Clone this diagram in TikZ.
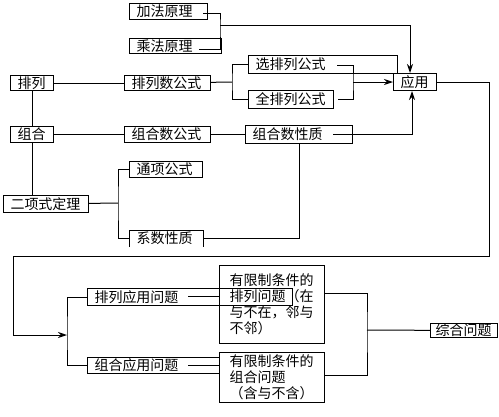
\documentclass[tikz,border=0pt]{standalone}
\usepackage{fontspec}
\usetikzlibrary{arrows.meta}
\newfontfamily\cjk{Noto Sans CJK SC}

\begin{document}
\begin{tikzpicture}[x=1pt,y=-1pt,>={Stealth[length=9pt,width=6pt]},line width=1pt,
        box/.style={draw, anchor=north west, inner xsep=7pt, inner ysep=0pt, align=left, font=\cjk\fontsize{14}{16}\selectfont}]
        \useasboundingbox (0,0) rectangle (499,416);

        \coordinate (JfStub) at (203,13);
        \coordinate (CfStub) at (199,49);
        \coordinate (PrJoin) at (220,25);
        \coordinate (PlJoin) at (232,82);
        \coordinate (XuanStub) at (337,65);
        \coordinate (XqJoin) at (353,82);
        \coordinate (ZxzStub) at (333,134);
        \coordinate (BtJoin) at (118,203);
        \coordinate (LoopR) at (489,256);
        \coordinate (LoopL) at (13,256);
        \coordinate (ApJoin) at (67,335);
        \coordinate (PwStub) at (188,296);
        \coordinate (ZwStub) at (188,365);
        \coordinate (TjJoin) at (367,330);

        % Principles
        \node[box, text width=64, minimum height=16] (Jiafa) at (129,3) {加法原理};
        \node[box, text width=78, minimum height=15] (Chengfa) at (129,38) {乘法原理};

        % Permutations
        \node[box, text width=29, minimum height=15] (Pailie) at (10,75) {排列};
        \node[box, text width=72, minimum height=15] (PailieShu) at (124,75) {排列数公式};
        \node[box, text width=135, minimum height=18] (XuanPl) at (248,55) {选排列公式};
        \node[box, text width=71, minimum height=18] (QuanPl) at (248,90) {全排列公式};
        \node[box, text width=29, minimum height=17] (Yingyong) at (393,73) {应用};

        % Combinations
        \node[box, text width=29, minimum height=16] (Zuhe) at (10,126) {组合};
        \node[box, text width=72, minimum height=16] (ZuheShu) at (124,126) {组合数公式};
        \node[box, text width=93, minimum height=18] (ZuheXz) at (245,125) {组合数性质};

        % Binomial theorem
        \node[box, text width=71, minimum height=17] (Erxiang) at (3,195) {二项式定理};
        \node[box, text width=59, minimum height=16] (Tongxiang) at (129,161) {通项公式};
        \node[box, draw=none, text width=59, minimum height=16] (Xishu) at (129,230) {系数性质};
        \draw (Xishu.south west) -- (Xishu.north west) -- (Xishu.north east) -- (Xishu.south east);

        % Applied problems
        \node[box, text width=191, minimum height=17] (PlWenti) at (87,288) {排列应用问题};
        \node[box, text width=118, minimum height=16] (ZhWenti) at (87,357) {组合应用问题};
        \node[box, inner xsep=10pt, text width=85, minimum height=78] (PlTiaojian) at (219,265) {有限制条件的\\排列问题（在\\与不在，邻与\\不邻）};
        \node[box, inner xsep=10pt, text width=85, minimum height=50] (ZhTiaojian) at (219,352) {有限制条件的\\组合问题\\（含与不含）};
        \node[box, inner xsep=5pt, text width=57, minimum height=14] (Zonghe) at (430,323) {综合问题};

        % Principles to application
        \draw (JfStub) -| (PrJoin) |- (CfStub);
        \draw[->] (PrJoin) -| ([xshift=-5]Yingyong.north);

        % Permutation row
        \draw (Pailie) -- (PailieShu);
        \draw (PailieShu) -- (PlJoin);
        \draw (XuanPl.west) -| (PlJoin) |- (QuanPl.west);
        \draw (XuanStub) -| (XqJoin) |- ([xshift=4]QuanPl.east);
        \draw[->] (XqJoin) -- (Yingyong);

        % Combination row
        \draw (Zuhe) -- (ZuheShu);
        \draw (ZuheShu) -- (ZuheXz);
        \draw[->] (ZxzStub) -| ([xshift=-3]Yingyong.south);
        \draw (Pailie) -- (Zuhe);
        \draw (Zuhe.south) -- (Zuhe.south |- Erxiang.north);

        % Binomial theorem
        \draw (Erxiang) -- (BtJoin);
        \draw (Tongxiang.west) -| (BtJoin) |- (Xishu.west);
        \draw (Xishu.east) -| (ZuheXz.south);

        % Loop down to applied problems
        \draw[->] (Yingyong) -- (Yingyong -| LoopR) -- (LoopR) -- (LoopL) |- (ApJoin);
        \draw (PlWenti.west) -| (ApJoin) |- (ZhWenti.west);
        \draw (PwStub) -- (PwStub -| PlTiaojian.west);
        \draw (ZwStub) -- (ZwStub -| ZhTiaojian.west);

        % Restricted problems to mixed problems
        \draw ([yshift=11]PlTiaojian.east) -| (TjJoin) |- ([yshift=2]ZhTiaojian.east);
        \draw (TjJoin) -- (Zonghe);
    \end{tikzpicture}
\end{document}
